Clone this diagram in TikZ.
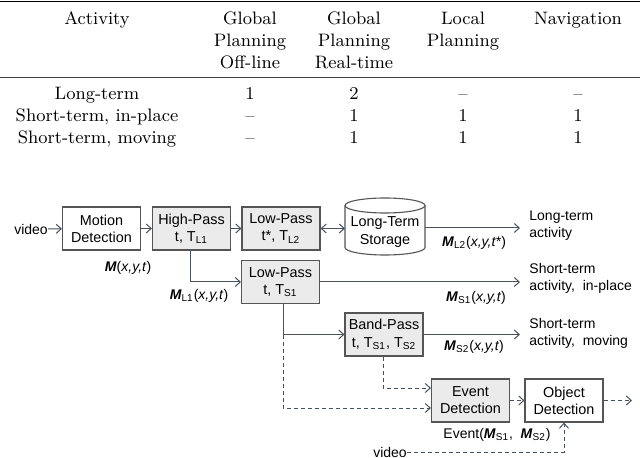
\documentclass[tikz,border=0pt]{standalone}
\usepackage{fontspec}
\setsansfont{Liberation Sans}
\usetikzlibrary{arrows.meta,calc}
\definecolor{boxc}{HTML}{555555}
\definecolor{boxfill}{HTML}{EBEBEB}
\definecolor{linec}{HTML}{48525C}
\newcommand\sbs[1]{\textsubscript{#1}}
\newcommand\bM{\textbf{\textit{M}}}
\begin{document}
\begin{tikzpicture}[x=0.5pt,y=-0.5pt,
  tcell/.style={inner sep=0pt,align=center,font=\fontsize{9}{11}\selectfont},
  blk/.style={draw=boxc,line width=0.55pt,minimum width=39pt,minimum height=21.5pt,inner sep=0pt,align=center,font=\sffamily\fontsize{7.2}{8.6}\selectfont},
  gblk/.style={blk,fill=boxfill},
  lbl/.style={inner sep=0pt,font=\sffamily\fontsize{7}{8.5}\selectfont},
  outlbl/.style={lbl,align=left,anchor=west},
  conn/.style={draw=linec,line width=0.5pt,-{Straight Barb[length=2.5pt,width=4.5pt]}},
  dconn/.style={conn,dash pattern=on 2pt off 1.5pt},
]
\useasboundingbox (0,0) rectangle (640,458);
% ---------------- table ----------------
\draw[line width=0.9pt] (0,1.5) coordinate (tr1) -- (640,1.5) coordinate (tr2);
\draw[line width=0.5pt,draw=black!75] (0,78) coordinate (mr1) -- (640,78) coordinate (mr2);
\node[tcell,anchor=north] (h1) at (97,11.5) {Activity};
\node[tcell,anchor=north] (h2) at (250,11.5) {Global\\Planning\\Off-line};
\node[tcell,anchor=north] (h3) at (354,11.5) {Global\\Planning\\Real-time};
\node[tcell,anchor=north] (h4) at (463,11.5) {Local\\Planning};
\node[tcell,anchor=north] (h5) at (578,11.5) {Navigation};
\node[tcell,anchor=base] (r1c1) at (97,100) {Long-term};
\node[tcell,anchor=base] (r1c2) at (250,100) {1};
\node[tcell,anchor=base] (r1c3) at (354,100) {2};
\node[tcell,anchor=base] (r1c4) at (463,100) {--};
\node[tcell,anchor=base] (r1c5) at (578,100) {--};
\node[tcell,anchor=base] (r2c1) at (97,122) {Short-term, in-place};
\node[tcell,anchor=base] (r2c2) at (250,122) {--};
\node[tcell,anchor=base] (r2c3) at (354,122) {1};
\node[tcell,anchor=base] (r2c4) at (463,122) {1};
\node[tcell,anchor=base] (r2c5) at (578,122) {1};
\node[tcell,anchor=base] (r3c1) at (97,144) {Short-term, moving};
\node[tcell,anchor=base] (r3c2) at (250,144) {--};
\node[tcell,anchor=base] (r3c3) at (354,144) {1};
\node[tcell,anchor=base] (r3c4) at (463,144) {1};
\node[tcell,anchor=base] (r3c5) at (578,144) {1};
% ---------------- diagram ----------------
\node[lbl] (vid1) at (31,229) {video};
\node[blk] (md) at (101.5,228.5) {Motion\\Detection};
\node[gblk] (hp) at (191.5,228.5) {High-Pass\\t, T\sbs{L1}};
\node[gblk] (lp2) at (281,228.5) {Low-Pass\\t*, T\sbs{L2}};
\node[gblk] (lp1) at (280.5,282) {Low-Pass\\t, T\sbs{S1}};
\node[gblk] (bp) at (384,334.5) {Band-Pass\\t, T\sbs{S1}, T\sbs{S2}};
\node[gblk] (ed) at (470.5,400.5) {Event\\Detection};
\node[blk] (od) at (564,400.5) {Object\\Detection};
% cylinder
\draw[boxc,line width=0.55pt,fill=white] (345,205.5) -- (345,247.5)
  arc[start angle=180,end angle=360,x radius=20pt,y radius=3.75pt] -- (425,205.5);
\draw[boxc,line width=0.55pt,fill=white] (385,205.5) ellipse[x radius=20pt,y radius=3.75pt];
\node[lbl,align=center,minimum width=40pt,minimum height=28.5pt,font=\sffamily\fontsize{7.2}{8.6}\selectfont] (lts) at (385,232) {Long-Term\\Storage};
% labels
\node[lbl] (m0) at (128,268) {\bM(\textit{x,y,t})};
\node[lbl] (ml1) at (199,296) {\bM\sbs{L1}(\textit{x,y,t})};
\node[lbl] (ml2) at (474,243) {\bM\sbs{L2}(\textit{x,y,t*})};
\node[lbl] (ms1) at (476,298) {\bM\sbs{S1}(\textit{x,y,t})};
\node[lbl] (ms2) at (474,347) {\bM\sbs{S2}(\textit{x,y,t})};
\node[lbl] (ev) at (497,435) {Event(\bM\sbs{S1}, \ \bM\sbs{S2})};
\node[outlbl] (o1) at (529,226) {Long-term\\activity};
\node[outlbl] (o2) at (529,278) {Short-term\\activity, \ in-place};
\node[outlbl] (o3) at (529,333) {Short-term\\activity, \ moving};
\node[lbl] (vid2) at (390,452) {video};
% coordinates
\coordinate (e1) at (520,228);
\coordinate (e2) at (520,282);
\coordinate (e3) at (520,334.5);
\coordinate (e4) at (632,400.5);
\coordinate (j1) at ($(lp1.south)+(2.5,0)$);
\coordinate (jb) at (j1 |- bp.west);
\coordinate (ein1) at ($(ed.west)+(0,-12.5)$);
\coordinate (ein2) at ($(ed.west)+(0,7.5)$);
% connectors
\draw[conn] (vid1) -- (md);
\draw[conn] (md) -- (hp);
\draw[conn] (hp) -- (lp2);
\draw[conn,{Straight Barb[length=2.5pt,width=4.5pt]}-{Straight Barb[length=2.5pt,width=4.5pt]}] (lp2.east) -- (345,228.5);
\draw[conn] (425,228) -- (e1);
\draw[conn] ($(hp.south)+(-1.5,0)$) |- (lp1.west);
\draw[conn] (lp1.east) -- (e2);
\draw[conn] (j1) |- (bp.west);
\draw[conn] (bp.east) -- (e3);
\draw[dconn] (jb) |- (ein2);
\draw[dconn] ($(bp.south)+(-1,0)$) |- (ein1);
\draw[dconn] (ed) -- (od);
\draw[dconn] (od.east) -- (e4);
\draw[dconn] (vid2.east) -| (od.south);
\end{tikzpicture}
\end{document}
